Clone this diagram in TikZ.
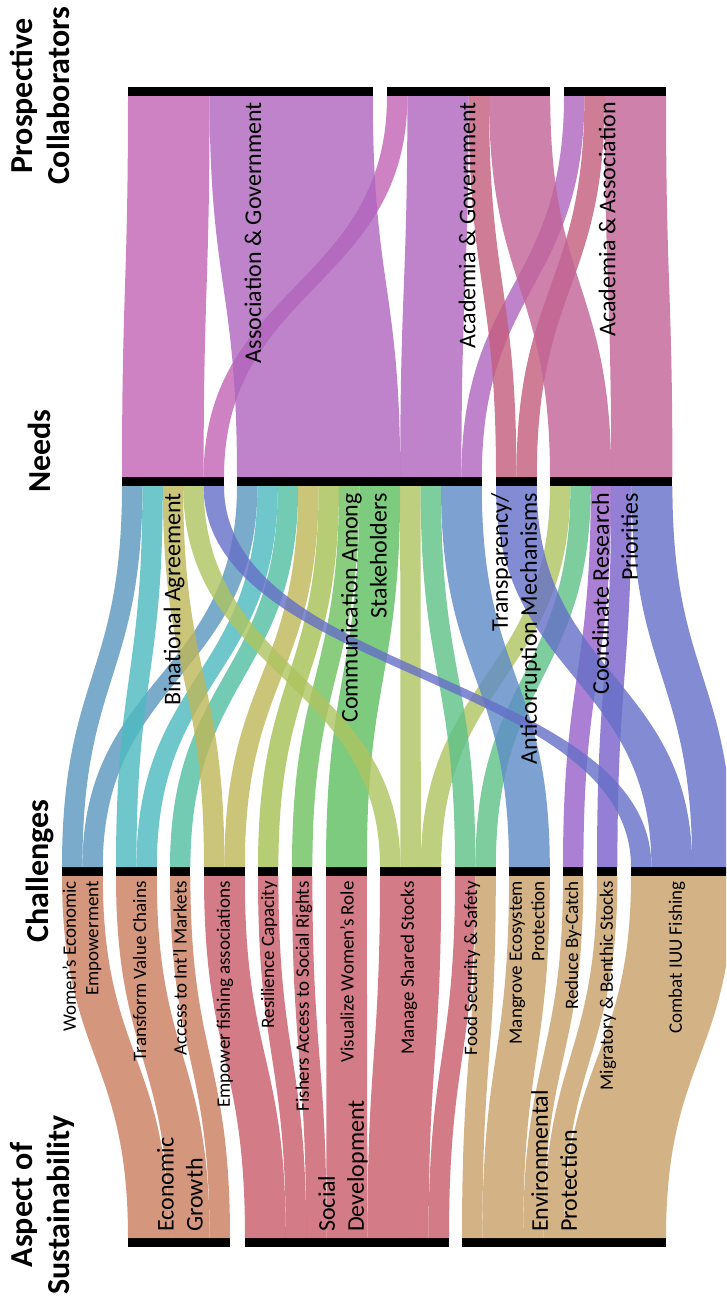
\documentclass[tikz,border=0pt]{standalone}
\usepackage{fontspec}
\setmainfont{Carlito}
\usetikzlibrary{calc}
\definecolor{cEcon}{RGB}{202,126,94}
\definecolor{cSoc}{RGB}{200,91,104}
\definecolor{cEnv}{RGB}{201,160,104}
\definecolor{cWom}{RGB}{89,151,189}
\definecolor{cTra}{RGB}{76,186,191}
\definecolor{cAcc}{RGB}{80,190,161}
\definecolor{cEmp}{RGB}{190,183,89}
\definecolor{cRes}{RGB}{164,193,84}
\definecolor{cFis}{RGB}{111,193,96}
\definecolor{cVis}{RGB}{93,190,96}
\definecolor{cMan}{RGB}{174,196,96}
\definecolor{cFood}{RGB}{93,193,136}
\definecolor{cMang}{RGB}{93,139,199}
\definecolor{cRed}{RGB}{151,96,201}
\definecolor{cMig}{RGB}{121,96,201}
\definecolor{cCom}{RGB}{101,111,199}
\definecolor{cBin}{RGB}{194,99,180}
\definecolor{cComm}{RGB}{174,101,189}
\definecolor{cTrp}{RGB}{195,93,124}
\definecolor{cCoo}{RGB}{194,99,151}
\newcommand\uu{20.4}
\newcommand\band[6]{%
  \coordinate (p) at ($(#2.north west)+(#3*\uu,0)$);
  \coordinate (q) at ($(#4.south west)+(#5*\uu,0)$);
  \coordinate (m) at ($(p)!0.5!(q)$);
  \fill[flow, #1] (p) .. controls (p |- m) and (q |- m) .. (q)
    -- ($(q)+(#6*\uu,0)$) .. controls ($(q |- m)+(#6*\uu,0)$) and ($(p |- m)+(#6*\uu,0)$) .. ($(p)+(#6*\uu,0)$) -- cycle;
}
\begin{document}
\begin{tikzpicture}[x=1pt,y=-1pt,
  bar/.style={rectangle, fill=black, inner sep=0pt, outer sep=0pt, minimum height=9pt, anchor=north west},
  barw/.style={minimum width=#1*20.4pt},
  flow/.style={fill opacity=0.8},
  chlab/.style={rotate=90, anchor=east, inner sep=0pt, align=right, font=\fontsize{19}{22.5}\selectfont},
  needlab/.style={rotate=90, anchor=east, inner sep=0pt, align=right, font=\fontsize{24}{29}\selectfont},
  asplab/.style={rotate=90, anchor=west, inner sep=0pt, align=left, font=\fontsize{24}{29}\selectfont},
  title/.style={rotate=90, anchor=center, inner sep=0pt, align=center, font=\fontsize{32}{37}\selectfont\bfseries}]
\fill[white] (0,0) rectangle (726,1298);
\clip (0,0) rectangle (726,1298);
% collaborators
\node[bar,barw=12] (ag) at (128,87) {};
\node[bar,barw=8] (agov) at (387,87) {};
\node[bar,barw=5] (aa) at (564,87) {};
% needs
\node[bar,barw=5] (ba) at (122,477) {};
\node[bar,barw=12] (cs) at (237,477) {};
\node[bar,barw=2] (ta) at (496,477) {};
\node[bar,barw=6] (cr) at (550,477) {};
% challenges
\node[bar,barw=2] (we) at (62,867) {};
\node[bar,barw=2] (tv) at (116,867) {};
\node[bar,barw=1] (ai) at (170,867) {};
\node[bar,barw=2] (ef) at (204,867) {};
\node[bar,barw=1] (rc) at (258,867) {};
\node[bar,barw=1] (fa) at (292,867) {};
\node[bar,barw=2] (vw) at (326,867) {};
\node[bar,barw=3] (ms) at (380,867) {};
\node[bar,barw=2] (fs) at (455,867) {};
\node[bar,barw=2] (mp) at (509,867) {};
\node[bar,barw=1] (rb) at (563,867) {};
\node[bar,barw=1] (mb) at (597,867) {};
\node[bar,barw=5] (ci) at (631,867) {};
% aspects
\node[bar,barw=5] (eg) at (128,1238) {};
\node[bar,barw=10] (sd) at (245,1238) {};
\node[bar,barw=10] (ep) at (462,1238) {};
% layer 1
\band{cEcon}{eg}{0}{we}{0}{2}
\band{cEcon}{eg}{2}{tv}{0}{2}
\band{cEcon}{eg}{4}{ai}{0}{1}
\band{cSoc}{sd}{0}{ef}{0}{2}
\band{cSoc}{sd}{2}{rc}{0}{1}
\band{cSoc}{sd}{3}{fa}{0}{1}
\band{cSoc}{sd}{4}{vw}{0}{2}
\band{cSoc}{sd}{6}{ms}{0}{3}
\band{cSoc}{sd}{9}{fs}{0}{1}
\band{cEnv}{ep}{0}{fs}{1}{1}
\band{cEnv}{ep}{1}{mp}{0}{2}
\band{cEnv}{ep}{3}{rb}{0}{1}
\band{cEnv}{ep}{4}{mb}{0}{1}
\band{cEnv}{ep}{5}{ci}{0}{5}
% layer 2
\band{cWom}{we}{0}{ba}{0}{1}
\band{cWom}{we}{1}{cs}{0}{1}
\band{cTra}{tv}{0}{ba}{1}{1}
\band{cTra}{tv}{1}{cs}{1}{1}
\band{cAcc}{ai}{0}{cs}{2}{1}
\band{cEmp}{ef}{0}{ba}{2}{1}
\band{cEmp}{ef}{1}{cs}{3}{1}
\band{cRes}{rc}{0}{cs}{4}{1}
\band{cFis}{fa}{0}{cs}{5}{1}
\band{cVis}{vw}{0}{cs}{6}{2}
\band{cMan}{ms}{0}{ba}{3}{1}
\band{cMan}{ms}{1}{cs}{8}{1}
\band{cMan}{ms}{2}{cr}{0}{1}
\band{cFood}{fs}{0}{cs}{9}{1}
\band{cFood}{fs}{1}{cr}{1}{1}
\band{cMang}{mp}{0}{cs}{10}{2}
\band{cRed}{rb}{0}{cr}{2}{1}
\band{cMig}{mb}{0}{cr}{3}{1}
\band{cCom}{ci}{0}{ba}{4}{1}
\band{cCom}{ci}{1}{ta}{0}{2}
\band{cCom}{ci}{3}{cr}{4}{2}
% layer 3
\band{cBin}{ba}{0}{ag}{0}{4}
\band{cBin}{ba}{4}{agov}{0}{1}
\band{cComm}{cs}{0}{ag}{4}{8}
\band{cComm}{cs}{8}{agov}{1}{3}
\band{cComm}{cs}{11}{aa}{0}{1}
\band{cTrp}{ta}{0}{agov}{4}{1}
\band{cTrp}{ta}{1}{aa}{1}{1}
\band{cCoo}{cr}{0}{agov}{5}{3}
\band{cCoo}{cr}{3}{aa}{2}{3}
% challenge labels
\node[chlab] (lwe) at (82,881) {Women’s Economic\\Empowerment};
\node[chlab] (ltv) at (139.5,881) {Transform Value Chains};
\node[chlab] (lai) at (180,881) {Access to Int’l Markets};
\node[chlab] (lef) at (225,881) {Empower fishing associations};
\node[chlab] (lrc) at (269,881) {Resilience Capacity};
\node[chlab] (lfa) at (304,881) {Fishers Access to Social Rights};
\node[chlab] (lvw) at (347,881) {Visualize Women’s Role};
\node[chlab] (lms) at (409,881) {Manage Shared Stocks};
\node[chlab] (lfs) at (472,881) {Food Security \& Safety};
\node[chlab] (lmp) at (527,881) {Mangrove Ecosystem\\Protection};
\node[chlab] (lrb) at (573,881) {Reduce By-Catch};
\node[chlab] (lmb) at (608,881) {Migratory \& Benthic Stocks};
\node[chlab] (lci) at (677,881) {Combat IUU Fishing};
% need labels
\node[needlab] (lba) at (174,493) {Binational Agreement};
\node[needlab] (lcs) at (364,493) {Communication Among\\Stakeholders};
\node[needlab] (lta) at (516,493) {Transparency/\\Anticorruption Mechanisms};
\node[needlab] (lcr) at (615,493) {Coordinate Research\\Priorities};
% collaborator labels
\node[needlab] (lag) at (253,102) {Association \& Government};
\node[needlab] (lagov) at (467,102) {Academia \& Government};
\node[needlab] (laa) at (607,102) {Academia \& Association};
% aspect labels
\node[asplab] (leg) at (180,1232) {Economic\\Growth};
\node[asplab] (lsd) at (343,1232) {Social\\Development};
\node[asplab] (lep) at (554,1232) {Environmental\\Protection};
% titles
\node[title] (tpc) at (40,96) {Prospective\\Collaborators};
\node[title] (tn) at (39,451) {Needs};
\node[title] (tc) at (40,871) {Challenges};
\node[title] (ta) at (42,1205) {Aspect of\\Sustainability};
\end{tikzpicture}
\end{document}
